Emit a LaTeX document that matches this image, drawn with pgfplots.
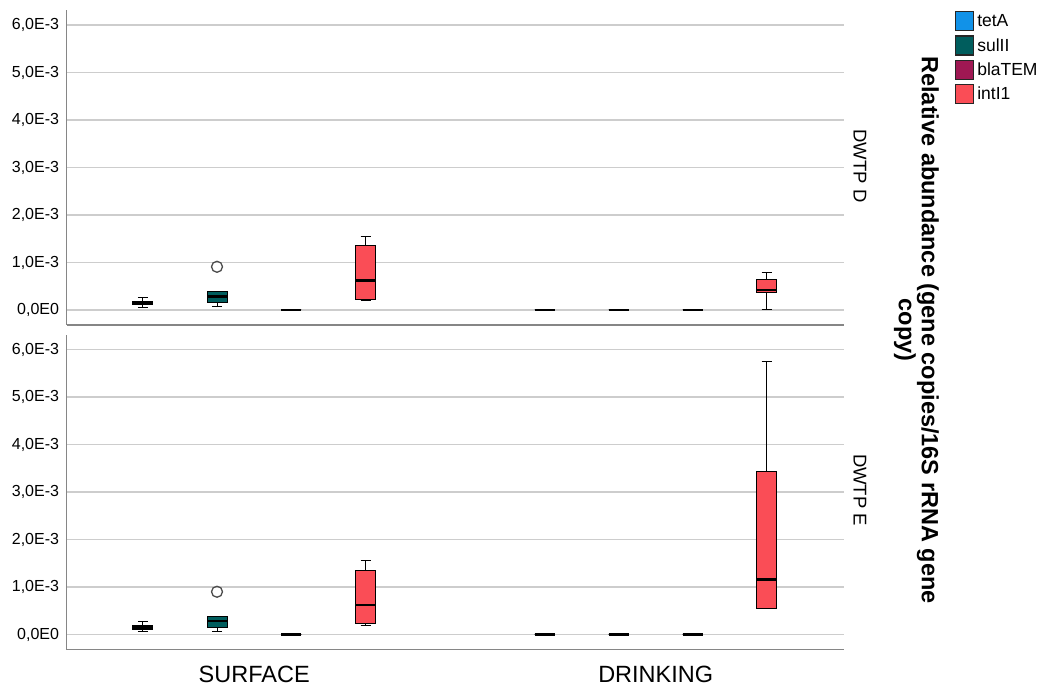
\documentclass[border=0pt]{standalone}
\usepackage{fontspec}
\setmainfont{Liberation Sans}
\usepackage{pgfplots}
\pgfplotsset{compat=1.18}
\usepgfplotslibrary{statistics}
\definecolor{cA}{HTML}{1192E8}
\definecolor{cB}{HTML}{005D5D}
\definecolor{cC}{HTML}{9F1853}
\definecolor{cD}{HTML}{FA4D56}
\definecolor{gridc}{HTML}{CDCDCD}
\definecolor{axc}{HTML}{868686}
% values are given in units of 1E-3
\pgfplotsset{
  panel/.style={
    scale only axis, width=776.8pt, height=315pt,
    xmin=0.667, xmax=8.435,
    ymin=-0.3158, ymax=6.3158,
    axis x line*=bottom, axis y line*=left,
    axis line style={draw=axc, line width=1.4pt, -},
    ymajorgrids, major grid style={draw=gridc, line width=1.5pt},
    major tick length=0pt,
    ytick={0,1,2,3,4,5,6},
    yticklabels={{0,0E0},{1,0E-3},{2,0E-3},{3,0E-3},{4,0E-3},{5,0E-3},{6,0E-3}},
    yticklabel style={font=\fontsize{16}{19}\selectfont, inner sep=0pt, xshift=-7.5pt},
    xticklabel style={font=\fontsize{23.5}{26}\selectfont, inner sep=0pt, anchor=north, yshift=-16.5pt},
    clip=false,
  },
  bx/.style={draw=black, line width=1pt, mark=o, mark size=5.5pt,
    mark options={draw=black!70, line width=1.3pt, fill=white},
    boxplot/draw direction=y,
    boxplot/box extend=0.2, boxplot/whisker extend=0.1,
    boxplot/every median/.style={line width=2.5pt, draw=black}},
}
\begin{document}
\begin{tikzpicture}
\path[use as bounding box] (0pt,0pt) rectangle (1051pt,691pt);
% ---------------- DWTP D ----------------
\begin{axis}[panel, at={(66.7pt,366pt)}, anchor=south west, xtick=\empty,
  legend image code/.code={\draw[#1] (0pt,-9.5pt) rectangle (18pt,9.5pt);},
  legend style={at={(axis description cs:1.1435,0.997)}, anchor=north west,
    draw=none, fill=none, inner sep=0pt, row sep=4.2pt,
    font=\fontsize{17.5}{20}\selectfont,
    nodes={inner xsep=3pt, inner ysep=0pt}},
  legend cell align=left]
\addlegendimage{fill=cA, draw=black!85, line width=1.1pt}\addlegendentry{tetA}
\addlegendimage{fill=cB, draw=black!85, line width=1.1pt}\addlegendentry{sulII}
\addlegendimage{fill=cC, draw=black!85, line width=1.1pt}\addlegendentry{blaTEM}
\addlegendimage{fill=cD, draw=black!85, line width=1.1pt}\addlegendentry{intI1}
% SURFACE
\addplot[bx, fill=cA, boxplot prepared={draw position=1.428, lower whisker=0.06, lower quartile=0.11, median=0.145, upper quartile=0.18, upper whisker=0.27}] coordinates {};
\addplot[bx, fill=cB, boxplot prepared={draw position=2.17, lower whisker=0.07, lower quartile=0.155, median=0.28, upper quartile=0.385, upper whisker=0.385}] table[row sep=\\, y index=0] {0.91\\};
\addplot[bx, fill=cC, boxplot prepared={draw position=2.913, lower whisker=0, lower quartile=0, median=0, upper quartile=0, upper whisker=0}] coordinates {};
\addplot[bx, fill=cD, boxplot prepared={draw position=3.655, lower whisker=0.20, lower quartile=0.23, median=0.625, upper quartile=1.35, upper whisker=1.55}] coordinates {};
% DRINKING
\addplot[bx, fill=cA, boxplot prepared={draw position=5.447, lower whisker=0, lower quartile=0, median=0, upper quartile=0, upper whisker=0}] coordinates {};
\addplot[bx, fill=cB, boxplot prepared={draw position=6.187, lower whisker=0, lower quartile=0, median=0, upper quartile=0, upper whisker=0}] coordinates {};
\addplot[bx, fill=cC, boxplot prepared={draw position=6.925, lower whisker=0, lower quartile=0, median=0, upper quartile=0, upper whisker=0}] coordinates {};
\addplot[bx, fill=cD, boxplot prepared={draw position=7.667, lower whisker=0.01, lower quartile=0.37, median=0.42, upper quartile=0.65, upper whisker=0.79}] coordinates {};
\end{axis}
% ---------------- DWTP E ----------------
\begin{axis}[panel, at={(66.7pt,41.5pt)}, anchor=south west,
  xtick={2.542,6.557}, xticklabels={SURFACE,DRINKING}]
% SURFACE
\addplot[bx, fill=cA, boxplot prepared={draw position=1.428, lower whisker=0.06, lower quartile=0.11, median=0.145, upper quartile=0.18, upper whisker=0.27}] coordinates {};
\addplot[bx, fill=cB, boxplot prepared={draw position=2.17, lower whisker=0.07, lower quartile=0.155, median=0.28, upper quartile=0.385, upper whisker=0.385}] table[row sep=\\, y index=0] {0.90\\};
\addplot[bx, fill=cC, boxplot prepared={draw position=2.913, lower whisker=0, lower quartile=0, median=0, upper quartile=0, upper whisker=0}] coordinates {};
\addplot[bx, fill=cD, boxplot prepared={draw position=3.655, lower whisker=0.20, lower quartile=0.23, median=0.625, upper quartile=1.35, upper whisker=1.55}] coordinates {};
% DRINKING
\addplot[bx, fill=cA, boxplot prepared={draw position=5.447, lower whisker=0, lower quartile=0, median=0, upper quartile=0, upper whisker=0}] coordinates {};
\addplot[bx, fill=cB, boxplot prepared={draw position=6.187, lower whisker=0, lower quartile=0, median=0, upper quartile=0, upper whisker=0}] coordinates {};
\addplot[bx, fill=cC, boxplot prepared={draw position=6.925, lower whisker=0, lower quartile=0, median=0, upper quartile=0, upper whisker=0}] coordinates {};
\addplot[bx, fill=cD, boxplot prepared={draw position=7.667, lower whisker=0.54, lower quartile=0.54, median=1.155, upper quartile=3.44, upper whisker=5.74}] coordinates {};
\end{axis}
% strip labels and title
\node[rotate=-90, inner sep=0pt, font=\fontsize{18.5}{21}\selectfont] at (860pt,525pt) {DWTP D};
\node[rotate=-90, inner sep=0pt, font=\fontsize{18.5}{21}\selectfont] at (860pt,201pt) {DWTP E};
\node[rotate=-90, inner sep=0pt, align=center, font=\fontsize{23.5}{21.5}\selectfont\bfseries] at (916.5pt,361pt) {Relative abundance (gene copies/16S rRNA gene\\copy)};
\end{tikzpicture}
\end{document}
